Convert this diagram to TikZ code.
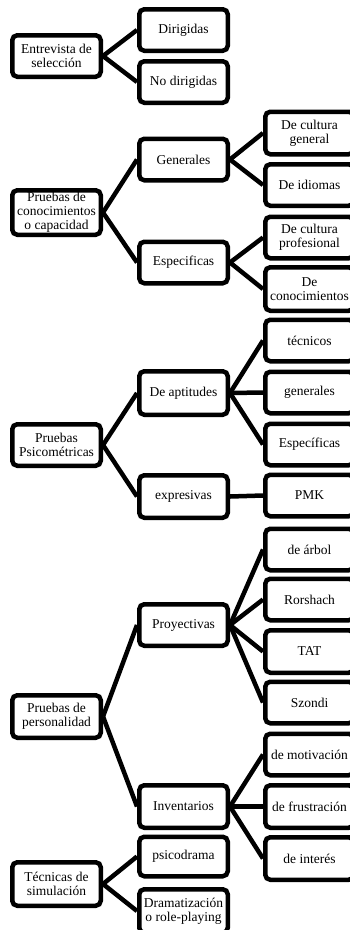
\documentclass[tikz,border=0pt]{standalone}
\usepackage{fontspec}
\setmainfont{Liberation Serif}
\begin{document}
\begin{tikzpicture}[x=1pt,y=-1pt,
  box/.style={draw=black, line width=4.5pt, rounded corners=5pt, fill=white,
    minimum width=88.5pt, minimum height=41.5pt, inner sep=1pt, align=center,
    font=\fontsize{13.5}{14}\selectfont},
  link/.style={line width=4.5pt}]
\useasboundingbox (0,0) rectangle (350,930);
% level 1
\node[box] (ent) at (56.5,56) {Entrevista de\\selección};
\node[box, minimum height=44.5pt] (con) at (56.5,212.5) {Pruebas de\\conocimientos\\o capacidad};
\node[box] (psi) at (56.5,445) {Pruebas\\Psicométricas};
\node[box, minimum height=42.5pt] (per) at (56.5,716.5) {Pruebas de\\personalidad};
\node[box, minimum height=43.5pt] (sim) at (56.5,884) {Técnicas de\\simulación};
% level 2
\node[box] (dir) at (183.5,30) {Dirigidas};
\node[box] (nod) at (183.5,82) {No dirigidas};
\node[box] (gen) at (183.5,159.5) {Generales};
\node[box] (esp) at (183.5,262.5) {Especificas};
\node[box, minimum height=43.5pt] (apt) at (183.5,393) {De aptitudes};
\node[box, minimum height=42.5pt] (exp) at (183.5,496.5) {expresivas};
\node[box] (pro) at (183.5,625) {Proyectivas};
\node[box, minimum height=42.5pt] (inv) at (183.5,806.5) {Inventarios};
\node[box, minimum height=39.5pt] (psd) at (183.5,856.5) {psicodrama};
\node[box, minimum height=43.5pt] (dra) at (183.5,911) {Dramatización\\o role-playing};
% level 3
\node[box, minimum height=42.5pt] (cg) at (309.5,133) {De cultura\\general};
\node[box] (idi) at (309.5,185) {De idiomas};
\node[box] (cp) at (309.5,237.5) {De cultura\\profesional};
\node[box, minimum height=43.5pt] (dc) at (309.5,289) {De\\conocimientos};
\node[box] (tec) at (309.5,340.5) {técnicos};
\node[box] (gnr) at (309.5,392.5) {generales};
\node[box] (esc) at (309.5,444.5) {Específicas};
\node[box] (pmk) at (309.5,495.5) {PMK};
\node[box] (arb) at (309.5,549.5) {de árbol};
\node[box] (ror) at (309.5,599.5) {Rorshach};
\node[box, minimum height=42.5pt] (tat) at (309.5,651.5) {TAT};
\node[box] (szo) at (309.5,702.5) {Szondi};
\node[box] (mot) at (309.5,754.5) {de motivación};
\node[box, minimum height=42.5pt] (fru) at (309.5,806.5) {de frustración};
\node[box, minimum height=42.5pt] (int) at (309.5,858.5) {de interés};
% connectors
\foreach \a/\b in {ent/dir, ent/nod, con/gen, con/esp, gen/cg, gen/idi, esp/cp, esp/dc,
  psi/apt, psi/exp, apt/tec, apt/gnr, apt/esc, exp/pmk,
  per/pro, per/inv, pro/arb, pro/ror, pro/tat, pro/szo, inv/mot, inv/fru, inv/int,
  sim/psd, sim/dra}
  \draw[link] (\a.east) -- (\b.west);
\end{tikzpicture}
\end{document}
